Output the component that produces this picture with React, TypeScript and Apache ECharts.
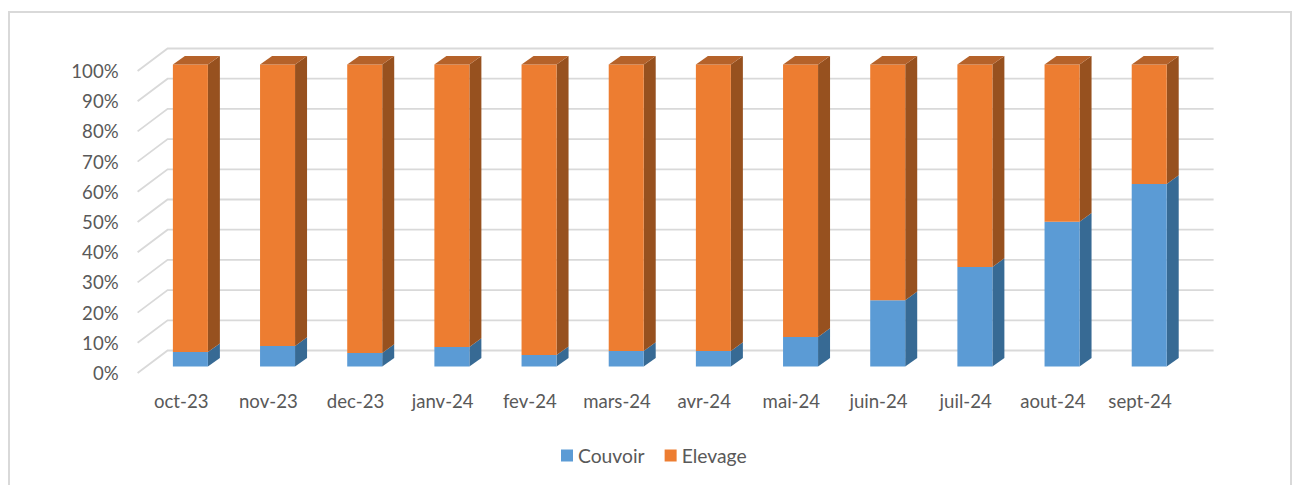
import React, { useEffect, useRef } from "react";
import * as echarts from "echarts";

const categories = ["oct-23", "nov-23", "dec-23", "janv-24", "fev-24", "mars-24", "avr-24", "mai-24", "juin-24", "juil-24", "aout-24", "sept-24"];
const couvoir = [4.8, 6.8, 4.5, 6.5, 3.8, 5.2, 5.2, 9.8, 22, 33, 48, 60.5];
const elevage = [95.2, 93.2, 95.5, 93.5, 96.2, 94.8, 94.8, 90.2, 78, 67, 52, 39.5];
const gridLevels = [0, 10, 20, 30, 40, 50, 60, 70, 80, 90, 100];

const BAR_W = 35, BAR_DX = 12, BAR_DY = 8.7, FRONT_DX = 9.2, FRONT_DY = 6.4, WALL_DX = 30, WALL_DY = 22.5;
const GRID_COLOR = "#d9d9d9", TEXT_COLOR = "#595959", FONT = "Lato";

function barRender(front: string, side: string, top: string | null) {
  return (_: any, api: any) => {
    const i = api.value(0);
    const [cx, y0] = api.coord([i, api.value(1)]);
    const [, y1] = api.coord([i, api.value(2)]);
    const l = cx + FRONT_DX - BAR_W / 2, r = l + BAR_W;
    const b = y0 - FRONT_DY, t = y1 - FRONT_DY;
    const children: any[] = [
      { type: "polygon", shape: { points: [[r, b], [r + BAR_DX, b - BAR_DY], [r + BAR_DX, t - BAR_DY], [r, t]] }, style: { fill: side } },
      { type: "rect", shape: { x: l, y: t, width: BAR_W, height: b - t }, style: { fill: front } },
    ];
    if (top) children.push({ type: "polygon", shape: { points: [[l, t], [l + BAR_DX, t - BAR_DY], [r + BAR_DX, t - BAR_DY], [r, t]] }, style: { fill: top } });
    return { type: "group", children };
  };
}

function wallRender(_: any, api: any) {
  const v = api.value(0);
  const band = api.size([1, 0])[0];
  const [c0, y] = api.coord([0, v]);
  const x0 = c0 - band / 2;
  const x1 = x0 + band * categories.length;
  return {
    type: "polyline",
    shape: { points: [[x0, y], [x0 + WALL_DX, y - WALL_DY], [x1 + WALL_DX, y - WALL_DY]] },
    style: { fill: "none", stroke: GRID_COLOR, lineWidth: 1.8 },
  };
}

export default function App() {
  const ref = useRef<HTMLDivElement>(null);
  useEffect(() => {
    document.body.style.margin = "0";
    const chart = echarts.init(ref.current!, undefined, { renderer: "svg" });
    let acc = couvoir.map(() => 0);
    const stacked = (vals: number[]) => {
      const d = vals.map((v, i) => [i, acc[i], acc[i] + v]);
      acc = acc.map((a, i) => a + vals[i]);
      return d;
    };
    chart.setOption({
      animation: false,
      backgroundColor: "#fff",
      grid: { left: 137.6, top: 71, width: 1046, height: 302, containLabel: false },
      legend: {
        data: ["Couvoir", "Elevage"],
        left: 556, top: 441, icon: "rect", itemWidth: 12, itemHeight: 12, itemGap: 20,
        textStyle: { color: TEXT_COLOR, fontFamily: FONT, fontSize: 19.3 },
      },
      xAxis: {
        type: "category", data: categories,
        axisLine: { show: false }, axisTick: { show: false }, splitLine: { show: false },
        axisLabel: { color: TEXT_COLOR, fontFamily: FONT, fontSize: 18.6, margin: 18, interval: 0 },
      },
      yAxis: {
        type: "value", min: 0, max: 100, interval: 10,
        axisLine: { show: false }, axisTick: { show: false }, splitLine: { show: false },
        axisLabel: { color: TEXT_COLOR, fontFamily: FONT, fontSize: 18.6, margin: 19, formatter: "{value}%" },
      },
      graphic: [{
        type: "polyline", silent: true,
        shape: { points: [[9, 500], [9, 12], [1291, 12], [1291, 500]] },
        style: { fill: "none", stroke: GRID_COLOR, lineWidth: 2 },
      }],
      series: [
        { type: "custom", name: "walls", renderItem: wallRender, data: gridLevels.map((v) => [v]), encode: { y: 0 }, clip: false, silent: true, z: 1 },
        { type: "custom", name: "Couvoir", itemStyle: { color: "#5b9bd5" }, renderItem: barRender("#5b9bd5", "#376a94", null), data: stacked(couvoir), encode: { x: 0, y: [1, 2] }, clip: false, z: 2 },
        { type: "custom", name: "Elevage", itemStyle: { color: "#ed7d31" }, renderItem: barRender("#ed7d31", "#97511f", "#b5622a"), data: stacked(elevage), encode: { x: 0, y: [1, 2] }, clip: false, z: 2 },
      ],
    });
    return () => chart.dispose();
  }, []);
  return <div ref={ref} style={{ width: 1295, height: 485 }} />;
}
